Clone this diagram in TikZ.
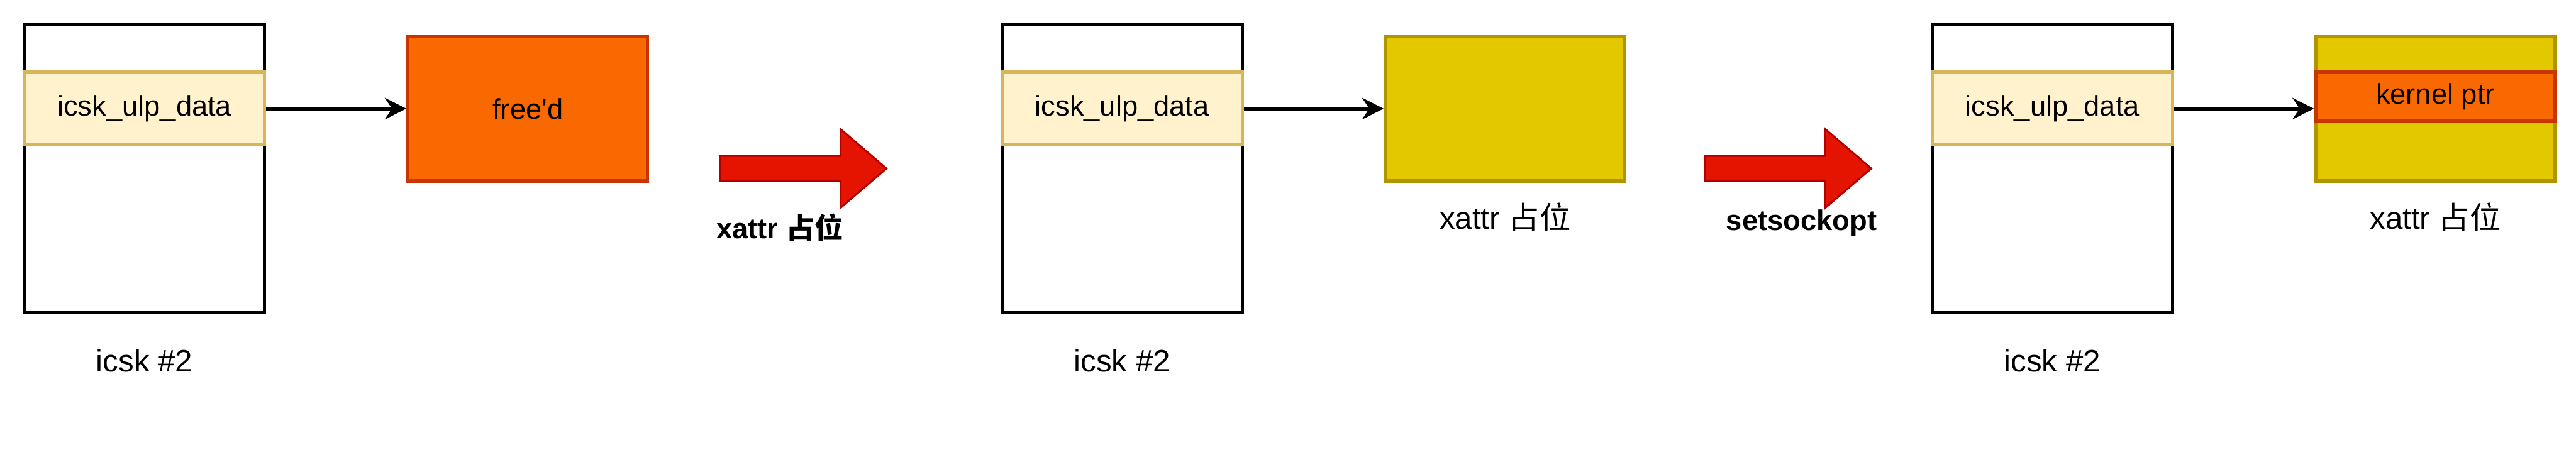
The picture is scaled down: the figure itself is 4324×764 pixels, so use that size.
\documentclass[tikz,border=0pt]{standalone}
\usepackage{fontspec}
\setmainfont{Liberation Sans}
\newfontfamily\cjk{Noto Sans CJK SC}
\usetikzlibrary{arrows.meta}
\definecolor{ulpfill}{HTML}{FFF2CC}
\definecolor{ulpline}{HTML}{D6B656}
\definecolor{freefill}{HTML}{FA6800}
\definecolor{freeline}{HTML}{C73500}
\definecolor{xattrfill}{HTML}{E3C800}
\definecolor{xattrline}{HTML}{B09500}
\definecolor{redfill}{HTML}{E51400}
\definecolor{redline}{HTML}{B20000}
\tikzstyle{sock} = [rectangle, minimum width=4.03cm, minimum height=4.83cm, draw=black, line width=1.6pt]
\tikzstyle{ulp} = [rectangle, minimum width=4.03cm, minimum height=1.22cm, text centered, draw=ulpline, fill=ulpfill, line width=1.6pt, font=\fontsize{13.6}{16}\selectfont]
\tikzstyle{chunk} = [rectangle, minimum width=4.02cm, minimum height=2.43cm, text centered, line width=1.6pt, font=\fontsize{13.6}{16}\selectfont]
\tikzstyle{freed} = [chunk, draw=freeline, fill=freefill]
\tikzstyle{xattr} = [chunk, draw=xattrline, fill=xattrfill]
\tikzstyle{kptr} = [rectangle, minimum width=4.02cm, minimum height=0.81cm, text centered, draw=freeline, fill=freefill, line width=1.6pt, font=\fontsize{13.6}{16}\selectfont]
\tikzstyle{hand} = [font=\fontsize{14.8}{17}\selectfont]
\tikzstyle{stage} = [font=\bfseries\fontsize{13.6}{16}\selectfont]
\tikzstyle{pointer} = [line width=1.6pt, -{Stealth[length=0.36cm, width=0.36cm, inset=0.12cm]}]
\tikzstyle{bigarrow} = [draw=redline, fill=redfill, line width=0.9pt]

\begin{document}
\begin{tikzpicture}[x=0.01cm, y=-0.01cm, node distance=3.22cm]
\useasboundingbox (0,0) rectangle (4324,764);

% first state: ulp data freed
\node (sk1) [sock] at (242.5,283.5) {};
\node (ulp1) [ulp] at (242.5,182.5) {icsk\_ulp\_data};
\node (free1) [freed] at (886,182.5) {free\textquotesingle d};
\node (name1) [hand, below of=sk1] {icsk \#2};
\draw [pointer] (ulp1) -- (free1);

% xattr spray
\draw [bigarrow] (1209,262) -- (1411,262) -- (1411,217) -- (1488,283) -- (1411,349) -- (1411,304) -- (1209,304) -- cycle;
\node (step1) [stage] at (1309,382) {xattr {\cjk 占位}};

% second state
\node (sk2) [sock] at (1883.5,283.5) {};
\node (ulp2) [ulp] at (1883.5,182.5) {icsk\_ulp\_data};
\node (xattr2) [xattr] at (2526.5,182.5) {};
\node (name2) [hand, below of=sk2] {icsk \#2};
\node (lab2) [hand, below of=xattr2, yshift=1.4cm] {xattr {\cjk 占位}};
\draw [pointer] (ulp2) -- (xattr2);

% setsockopt
\draw [bigarrow] (2862,262) -- (3064,262) -- (3064,217) -- (3141,283) -- (3064,349) -- (3064,304) -- (2862,304) -- cycle;
\node (step2) [stage] at (3024,375) {setsockopt};

% third state: kernel ptr inside xattr
\node (sk3) [sock] at (3445,283.5) {};
\node (ulp3) [ulp] at (3445,182.5) {icsk\_ulp\_data};
\node (xattr3) [xattr] at (4088,182.5) {};
\node (ptr3) [kptr] at (4088,162) {kernel ptr};
\node (name3) [hand, below of=sk3] {icsk \#2};
\node (lab3) [hand, below of=xattr3, yshift=1.4cm] {xattr {\cjk 占位}};
\draw [pointer] (ulp3) -- (xattr3);

\end{tikzpicture}
\end{document}
